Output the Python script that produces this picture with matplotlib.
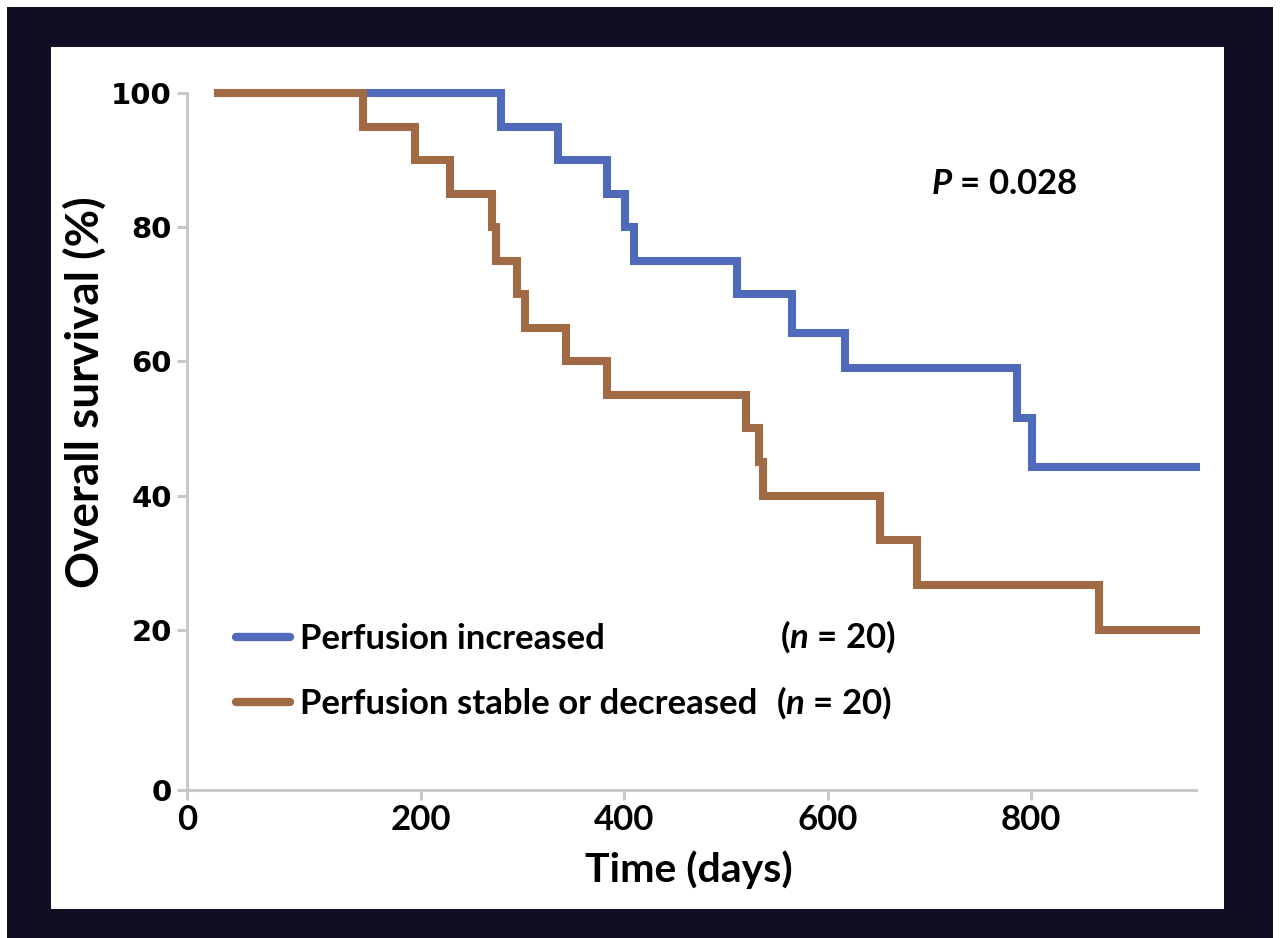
import matplotlib
matplotlib.use("Agg")
import matplotlib.pyplot as plt
from matplotlib.patches import Rectangle
from matplotlib.lines import Line2D

# Kaplan-Meier steps (days, % surviving)
inc_days = [0, 279, 335, 383, 401, 409, 511, 565, 617, 786, 801]
inc_surv = [100, 95, 90, 85, 80, 75, 70, 64.2, 59, 51.5, 44.3]

dec_days = [0, 143, 194, 229, 270, 274, 294, 302, 343, 383, 520, 532, 536, 651, 688, 867]
dec_surv = [100, 95, 90, 85, 80, 75, 70, 65, 60, 55, 50, 45, 40, 33.3, 26.7, 20]

labels = ["Perfusion increased", "Perfusion stable or decreased"]
p_value = "0.028"
n_each = 20

x_ticks = [200, 400, 600, 800]
y_ticks = [20, 40, 60, 80, 100]
x_min, x_max = -30, 962
y_min, y_max = -3.9, 100

W, H = 1280, 938
blue = "#4f69bb"
brown = "#a06a44"
dark = "#110d22"
grey = "#c8c8c8"
FONT = "Lato"

plt.rcParams["mathtext.fontset"] = "custom"
plt.rcParams["mathtext.it"] = "Lato:italic:bold"
plt.rcParams["mathtext.rm"] = "Lato:bold"


def fx(px):
    return px / W


def fy(py):
    return 1 - py / H


fig = plt.figure(figsize=(W / 100, H / 100), dpi=100)
fig.patch.set_facecolor("white")
fig.patches.append(Rectangle((fx(7), 0), fx(1266), fy(7), transform=fig.transFigure,
                             facecolor=dark, edgecolor="none", zorder=-2))
fig.patches.append(Rectangle((fx(51), fy(909)), fx(1173), (909 - 47) / H,
                             transform=fig.transFigure, facecolor="white",
                             edgecolor="none", zorder=-1))

ax = fig.add_axes([fx(187), fy(790), fx(1196 - 187), (790 - 93) / H])
ax.set_facecolor("none")
ax.set_zorder(2)

# extend each curve to the right edge
ax.step(inc_days + [x_max], inc_surv + [inc_surv[-1]], where="post", color=blue,
        lw=5.8, solid_joinstyle="miter", clip_on=False, zorder=3)
ax.step(dec_days + [x_max], dec_surv + [dec_surv[-1]], where="post", color=brown,
        lw=5.8, solid_joinstyle="miter", clip_on=False, zorder=4)

ax.set_xlim(x_min, x_max)
ax.set_ylim(y_min, y_max)
ax.set_xticks([x_min] + x_ticks)
ax.set_xticklabels(["0"] + [str(t) for t in x_ticks])
ax.set_yticks([y_min] + y_ticks)
ax.set_yticklabels(["0"] + [str(t) for t in y_ticks])

for s in ["top", "right"]:
    ax.spines[s].set_visible(False)
for s in ["left", "bottom"]:
    ax.spines[s].set_color(grey)
    ax.spines[s].set_linewidth(2.2)
ax.tick_params(axis="both", color=grey, width=2.2, length=7)
ax.tick_params(axis="x", pad=3)
ax.tick_params(axis="y", pad=4)
for t in ax.get_xticklabels():
    t.set_fontfamily(FONT)
    t.set_fontweight("bold")
    t.set_fontsize(25)
for t in ax.get_yticklabels():
    t.set_fontfamily("DejaVu Sans")
    t.set_fontweight("bold")
    t.set_fontsize(21)

fig.text(fx(689), fy(870), "Time (days)", fontfamily=FONT, fontweight="bold",
         fontsize=29.5, ha="center", va="center")
fig.text(fx(85), fy(392), "Overall survival (%)", fontfamily=FONT, fontweight="bold",
         fontsize=33, ha="center", va="center", rotation=90)

fig.text(fx(1004), fy(184), r"$\it{P}$ = " + p_value, fontfamily=FONT,
         fontweight="bold", fontsize=25, ha="center", va="center")

handles = [Line2D([], [], color=blue, lw=6, solid_capstyle="round"),
           Line2D([], [], color=brown, lw=6, solid_capstyle="round")]
leg = ax.legend(handles, labels, loc="upper left", bbox_to_anchor=(fx(236), fy(623)),
                bbox_transform=fig.transFigure, frameon=False, borderpad=0,
                borderaxespad=0, handlelength=1.55, handletextpad=0.3,
                labelspacing=0.96, prop={"family": FONT, "weight": "bold", "size": 25})

for yy, xx in [(637, 780), (703, 776)]:
    fig.text(fx(xx), fy(yy), r"($\it{n}$ = %d)" % n_each, fontfamily=FONT,
             fontweight="bold", fontsize=25, ha="left", va="center")

fig.savefig("out.png", dpi=100)
